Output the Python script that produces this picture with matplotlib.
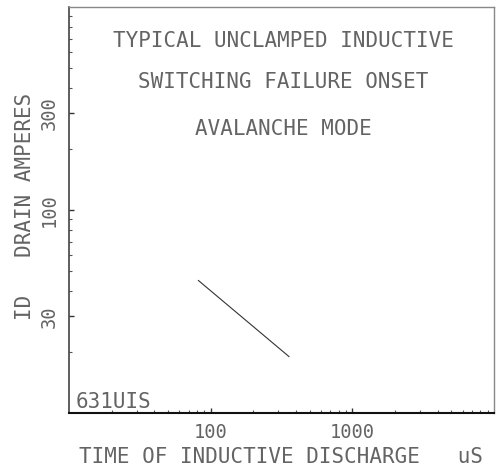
import matplotlib.pyplot as plt
from matplotlib.ticker import FixedLocator, LogLocator, NullFormatter

# onset line
time_us = [82, 357]
drain_amps = [45, 19]

x_ticks = [100, 1000]
y_ticks = [30, 100, 300]

plt.rcParams["font.family"] = ["DejaVu Sans Mono"]
GREY = "#646464"

fig = plt.figure(figsize=(4.96, 4.70), dpi=100)
ax = fig.add_axes([0.139, 0.121, 0.857, 0.864])

ax.plot(time_us, drain_amps, color="#333333", linewidth=0.8)

ax.set_xscale("log")
ax.set_yscale("log")
ax.set_xlim(10, 10000)
ax.set_ylim(10, 1000)

ax.xaxis.set_major_locator(FixedLocator(x_ticks))
ax.yaxis.set_major_locator(FixedLocator(y_ticks))
ax.xaxis.set_minor_locator(LogLocator(base=10, subs=range(2, 10)))
ax.yaxis.set_minor_locator(LogLocator(base=10, subs=range(2, 10)))
ax.xaxis.set_minor_formatter(NullFormatter())
ax.yaxis.set_minor_formatter(NullFormatter())
ax.set_xticklabels([str(v) for v in x_ticks])
ax.set_yticklabels([str(v) for v in y_ticks], rotation=90, va="center")

ax.tick_params(which="major", direction="in", length=3.5, width=1.0,
               color="#333333", labelsize=13.5, labelcolor=GREY)
ax.tick_params(axis="x", which="major", pad=7)
ax.tick_params(axis="y", which="major", pad=7)
ax.tick_params(which="minor", direction="in", length=2.5, width=0.8,
               color="#555555")

ax.spines["left"].set_color("#333333")
ax.spines["left"].set_linewidth(1.1)
ax.spines["bottom"].set_color("#111111")
ax.spines["bottom"].set_linewidth(1.5)
for side in ["top", "right"]:
    ax.spines[side].set_color("#888888")
    ax.spines[side].set_linewidth(1.0)

fig.text(0.5675, 0.0149, "TIME OF INDUCTIVE DISCHARGE   uS", ha="center",
         va="baseline", fontsize=15, color=GREY)
fig.text(0.05, 1 - 206 / 470, "ID   DRAIN AMPERES", ha="center",
         va="center", rotation=90, fontsize=15, color=GREY)

txt = dict(transform=ax.transAxes, ha="center", va="baseline", fontsize=15,
           color=GREY)
ax.text(0.505, 0.901, "TYPICAL UNCLAMPED INDUCTIVE", **txt)
ax.text(0.505, 0.800, "SWITCHING FAILURE ONSET", **txt)
ax.text(0.505, 0.685, "AVALANCHE MODE", **txt)
ax.text(0.015, 0.0123, "631UIS", transform=ax.transAxes, ha="left",
        va="baseline", fontsize=15, color=GREY)

fig.savefig("out.png", dpi=100)
